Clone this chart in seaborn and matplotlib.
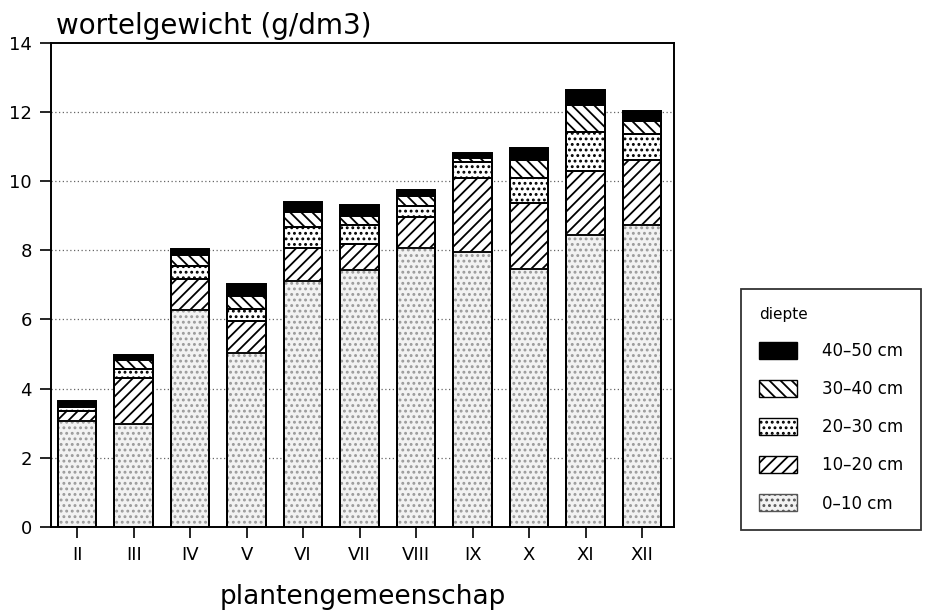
import matplotlib
matplotlib.use('Agg')
import matplotlib.pyplot as plt
from matplotlib.patches import Patch
import seaborn as sns
import numpy as np
import pandas as pd

# plantengemeenschappen en wortelgewicht per dieptelaag (g/dm3)
groepen = ['II', 'III', 'IV', 'V', 'VI', 'VII', 'VIII', 'IX', 'X', 'XI', 'XII']
laag_0_10 = [3.05, 2.98, 6.26, 5.03, 7.11, 7.43, 8.06, 7.96, 7.47, 8.43, 8.72]
laag_10_20 = [0.30, 1.34, 0.92, 0.94, 0.96, 0.76, 0.89, 2.14, 1.89, 1.87, 1.89]
laag_20_30 = [0.12, 0.26, 0.37, 0.32, 0.61, 0.54, 0.34, 0.46, 0.73, 1.11, 0.75]
laag_30_40 = [0.05, 0.24, 0.31, 0.39, 0.44, 0.26, 0.29, 0.12, 0.52, 0.79, 0.37]
laag_40_50 = [0.12, 0.16, 0.17, 0.35, 0.29, 0.31, 0.17, 0.13, 0.35, 0.44, 0.29]
lagen = ['0-10 cm', '10-20 cm', '20-30 cm', '30-40 cm', '40-50 cm']

df = pd.DataFrame({'groep': groepen, '0-10 cm': laag_0_10, '10-20 cm': laag_10_20,
                   '20-30 cm': laag_20_30, '30-40 cm': laag_30_40, '40-50 cm': laag_40_50})
cum = df[lagen].cumsum(axis=1)

# stijl per laag: (vulkleur, hatch, hatchkleur)
stijl = {'0-10 cm': ('#f2f2f2', '...', '#9a9a9a'),
         '10-20 cm': ('white', '///', 'black'),
         '20-30 cm': ('white', '...', 'black'),
         '30-40 cm': ('white', '\\\\\\', 'black'),
         '40-50 cm': ('black', '', 'black')}

sns.set_style('white')
plt.rcParams['font.family'] = ['DejaVu Sans']
plt.rcParams['hatch.linewidth'] = 1.3
plt.rcParams['text.color'] = 'black'
plt.rcParams['axes.labelcolor'] = 'black'
plt.rcParams['xtick.color'] = 'black'
plt.rcParams['ytick.color'] = 'black'

fig = plt.figure(figsize=(9.3, 6.12), dpi=100)
ax = fig.add_axes([0.055, 0.139, 0.67, 0.791])

ax.grid(False)
for yv in range(2, 14, 2):
    ax.axhline(yv, color='#666666', linestyle=(0, (1, 2)), linewidth=0.9, zorder=0)

# bovenste cumulatieve laag eerst, daarna de lagere eroverheen
for laag in lagen[::-1]:
    kleur, hatch, hkleur = stijl[laag]
    n_voor = len(ax.patches)
    sns.barplot(x=df['groep'], y=cum[laag], ax=ax, color=kleur, width=0.68,
                saturation=1, edgecolor='black', linewidth=1.3, zorder=2)
    for p in ax.patches[n_voor:]:
        p.set_facecolor(kleur)
        p.set_hatch(hatch)
        p.set_edgecolor(hkleur)

# zwarte omlijning over alle segmenten
for p in list(ax.patches):
    ax.add_patch(plt.Rectangle((p.get_x(), p.get_y()), p.get_width(), p.get_height(),
                               fill=False, edgecolor='black', linewidth=1.3, zorder=3))

ax.set_xlim(-0.46, 10.57)
ax.set_ylim(0, 14)
ax.set_yticks(range(0, 15, 2))
ax.set_xlabel('plantengemeenschap', fontsize=19, labelpad=14)
ax.set_ylabel('')
ax.tick_params(axis='both', direction='out', length=8, width=1.2, labelsize=13,
               bottom=True, left=True, pad=6)
for s in ax.spines.values():
    s.set_visible(True)
    s.set_linewidth(1.4)
    s.set_color('black')

fig.text(0.060, 0.958, 'wortelgewicht (g/dm3)', fontsize=20, ha='left', va='center')

handles = [Patch(facecolor=stijl[l][0], hatch=stijl[l][1], edgecolor='black',
                 label=l.replace('-', '\u2013')) for l in lagen[::-1]]
handles[-1].set_edgecolor('#555555')
leg = fig.legend(handles=handles, title='diepte', loc='upper left',
                 bbox_to_anchor=(0.788, 0.541), frameon=True, fancybox=False,
                 fontsize=12, title_fontsize=11, handlelength=2.3, handleheight=1.2,
                 labelspacing=1.2, borderpad=1.05, handletextpad=1.5, alignment='left')
leg.get_frame().set_edgecolor('black')
leg.get_frame().set_linewidth(1.3)

fig.savefig('out.png', dpi=100)
